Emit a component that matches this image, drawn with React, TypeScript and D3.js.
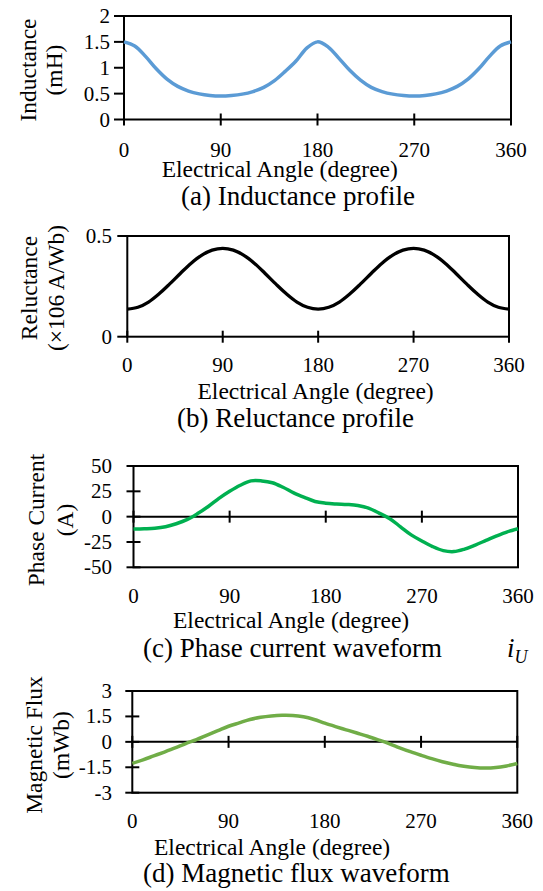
import React from "react";
import * as d3 from "d3";

const FONT = "'Liberation Serif', 'Times New Roman', serif";

const angles = [0, 10, 20, 30, 40, 50, 60, 70, 80, 90, 100, 110, 120, 130, 140, 150, 160, 170, 180,
  190, 200, 210, 220, 230, 240, 250, 260, 270, 280, 290, 300, 310, 320, 330, 340, 350, 360];

const xTickValues = [0, 90, 180, 270, 360];

// (a) Inductance (mH)
const inductance = [1.50, 1.42, 1.22, 0.98, 0.78, 0.64, 0.55, 0.495, 0.465, 0.455, 0.465, 0.49, 0.54, 0.62, 0.75, 0.93, 1.13, 1.38, 1.50,
  1.40, 1.18, 0.95, 0.76, 0.62, 0.54, 0.49, 0.465, 0.455, 0.465, 0.495, 0.55, 0.64, 0.78, 0.98, 1.22, 1.42, 1.50];
const inductanceTicks = [0, 0.5, 1, 1.5, 2];
const inductanceTickLabels = ["0", "0.5", "1", "1.5", "2"];

// (b) Reluctance (x10^6 A/Wb)
const reluctance = [0.137, 0.146, 0.172, 0.213, 0.262, 0.314, 0.364, 0.404, 0.430, 0.439, 0.430, 0.404, 0.364, 0.314, 0.262, 0.213, 0.172, 0.146, 0.137,
  0.146, 0.172, 0.213, 0.262, 0.314, 0.364, 0.404, 0.430, 0.439, 0.430, 0.404, 0.364, 0.314, 0.262, 0.213, 0.172, 0.146, 0.137];
const reluctanceTicks = [0, 0.5];
const reluctanceTickLabels = ["0", "0.5"];

// (c) Phase current (A)
const phaseCurrent = [-12.3, -12, -11.5, -10, -7, -3, 3, 10, 18, 25, 31, 35.3, 35.3, 33.5, 29, 23.5, 19, 15, 13.3,
  12.5, 12, 11, 8.5, 3.5, -2, -10, -18, -24, -29.5, -33.5, -34.5, -32, -28, -23.5, -19, -15, -12];
const currentTicks = [-50, -25, 0, 25, 50];
const currentTickLabels = ["-50", "-25", "0", "25", "50"];

// (d) Magnetic flux (mWb)
const magneticFlux = [-1.27, -1.06, -0.83, -0.60, -0.36, -0.10, 0.13, 0.40, 0.66, 0.92, 1.12, 1.32, 1.45, 1.53, 1.57, 1.56, 1.48, 1.32, 1.10,
  0.90, 0.71, 0.52, 0.33, 0.12, -0.10, -0.35, -0.58, -0.79, -0.99, -1.17, -1.32, -1.44, -1.52, -1.55, -1.52, -1.42, -1.28];
const fluxTicks = [-3, -1.5, 0, 1.5, 3];
const fluxTickLabels = ["-3", "-1.5", "0", "1.5", "3"];

type PanelProps = {
  x0: number; x1: number; yTop: number; yBot: number;
  yDomain: [number, number];
  yTicks: number[]; yTickLabels: string[];
  values: number[];
  color: string; lineWidth: number;
  zeroAxis: boolean;
  yTickOut: number; yTickIn: number;
  yLabelRight: number;
  yTitle: [string, string]; yTitleX: [number, number]; yTitleY: number;
  xLabelY: number;
  titleX: number; titleY: number;
  captionX: number; captionY: number;
  caption: React.ReactNode;
};

const txt = (size: number): React.CSSProperties => ({ fontFamily: FONT, fontSize: size });

function Panel(p: PanelProps) {
  const x = d3.scaleLinear().domain([0, 360]).range([p.x0, p.x1]);
  const y = d3.scaleLinear().domain(p.yDomain).range([p.yBot, p.yTop]);
  const line = d3.line<number>()
    .x((_, i) => x(angles[i]))
    .y((d) => y(d))
    .curve(d3.curveCatmullRom.alpha(0.5));
  const axisY = p.zeroAxis ? y(0) : p.yBot;
  return (
    <g fill="#000">
      <rect x={p.x0} y={p.yTop} width={p.x1 - p.x0} height={p.yBot - p.yTop} fill="none" stroke="#000" strokeWidth={2} />
      {p.zeroAxis && <line x1={p.x0} x2={p.x1} y1={axisY} y2={axisY} stroke="#000" strokeWidth={2} />}
      {p.yTicks.map((t, i) => (
        <g key={"yt" + i}>
          <line x1={p.x0 - p.yTickOut} x2={p.x0 + p.yTickIn} y1={y(t)} y2={y(t)} stroke="#000" strokeWidth={2} />
          <text x={p.yLabelRight} y={y(t) + 7} style={txt(21)} textAnchor="end">{p.yTickLabels[i]}</text>
        </g>
      ))}
      {xTickValues.map((t) => (
        <g key={"xt" + t}>
          <line x1={x(t)} x2={x(t)} y1={axisY - 6} y2={axisY + 6} stroke="#000" strokeWidth={2} />
          <text x={x(t)} y={p.xLabelY} style={txt(21)} textAnchor="middle">{t}</text>
        </g>
      ))}
      <path d={line(p.values) || ""} fill="none" stroke={p.color} strokeWidth={p.lineWidth} strokeLinejoin="round" />
      {p.yTitle.map((s, i) => (
        <text key={"ytl" + i} transform={`translate(${p.yTitleX[i]},${p.yTitleY}) rotate(-90)`} style={txt(23.5)} textAnchor="middle">{s}</text>
      ))}
      <text x={p.titleX} y={p.titleY} style={txt(23.5)}>Electrical Angle (degree)</text>
      <text x={p.captionX} y={p.captionY} style={txt(27)}>{p.caption}</text>
    </g>
  );
}

export default function App() {
  return (
    <svg width={543} height={891} style={{ position: "absolute", left: 0, top: 0, background: "#fff" }}>
      <rect width={543} height={891} fill="#fff" />
      <Panel
        x0={124} x1={511} yTop={16} yBot={119.5} yDomain={[0, 2]}
        yTicks={inductanceTicks} yTickLabels={inductanceTickLabels}
        values={inductance} color="#5B9BD5" lineWidth={3.5} zeroAxis={false}
        yTickOut={10} yTickIn={0} yLabelRight={110}
        yTitle={["Inductance", "(mH)"]} yTitleX={[36, 62]} yTitleY={70}
        xLabelY={156.5} titleX={161.7} titleY={177} captionX={181} captionY={205}
        caption="(a) Inductance profile"
      />
      <Panel
        x0={127.3} x1={509} yTop={236} yBot={336.7} yDomain={[0, 0.5]}
        yTicks={reluctanceTicks} yTickLabels={reluctanceTickLabels}
        values={reluctance} color="#000" lineWidth={3.3} zeroAxis={false}
        yTickOut={10} yTickIn={0} yLabelRight={112}
        yTitle={["Reluctance", "(×106 A/Wb)"]} yTitleX={[37, 64]} yTitleY={288}
        xLabelY={372} titleX={197.5} titleY={399} captionX={177} captionY={426.7}
        caption="(b) Reluctance profile"
      />
      <Panel
        x0={133.5} x1={518} yTop={466} yBot={567.3} yDomain={[-50, 50]}
        yTicks={currentTicks} yTickLabels={currentTickLabels}
        values={phaseCurrent} color="#00B050" lineWidth={3.5} zeroAxis={true}
        yTickOut={7} yTickIn={7} yLabelRight={112}
        yTitle={["Phase Current", "(A)"]} yTitleX={[43.5, 72.5]} yTitleY={520}
        xLabelY={603} titleX={173} titleY={628.3} captionX={143} captionY={656.7}
        caption={<>
          <tspan>(c) Phase current waveform </tspan>
          <tspan x={507} fontStyle="italic">i</tspan>
          <tspan fontStyle="italic" fontSize={18} dy={6}>U</tspan>
        </>}
      />
      <Panel
        x0={132.3} x1={517.3} yTop={691} yBot={792.7} yDomain={[-3, 3]}
        yTicks={fluxTicks} yTickLabels={fluxTickLabels}
        values={magneticFlux} color="#70AD47" lineWidth={3.5} zeroAxis={true}
        yTickOut={7} yTickIn={7} yLabelRight={112}
        yTitle={["Magnetic Flux", "(mWb)"]} yTitleX={[42, 69]} yTitleY={745}
        xLabelY={828.3} titleX={154} titleY={855} captionX={143} captionY={881.7}
        caption="(d) Magnetic flux waveform"
      />
    </svg>
  );
}
